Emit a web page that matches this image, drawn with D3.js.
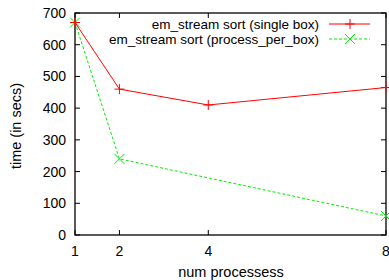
<!DOCTYPE html>
<html>
<head>
<meta charset="utf-8">
<script src="https://cdn.jsdelivr.net/npm/d3@7"></script>
<style>
  body { margin: 0; background: #fff; }
  text { font-family: "Liberation Sans", Arial, sans-serif; font-size: 14px; fill: #000; }
  .leg { font-size: 13.5px; }
  .axl { font-size: 14.5px; }
</style>
</head>
<body>
<div id="chart"></div>
<script>
var procs = [1, 2, 4, 8];
var singleBox = [670, 460, 410, 465];
var perBoxProcs = [1, 2, 8];
var perBox = [670, 240, 60];
var xTicks = [1, 2, 4, 8];
var yTicks = [0, 100, 200, 300, 400, 500, 600, 700];

var W = 389, H = 280;
var pl = 75, pr = 386, pt = 13, pb = 235;

var svg = d3.select("#chart").append("svg")
    .attr("width", W)
    .attr("height", H);

var x = d3.scaleLinear().domain([1, 8]).range([pl, pr]);
var y = d3.scaleLinear().domain([0, 700]).range([pb, pt]);

// ticks on all four sides, pointing inward (gnuplot style)
var tl = 5;
svg.selectAll(".ytl").data(yTicks).enter().append("line")
    .attr("x1", pl).attr("x2", pl + tl)
    .attr("y1", d => y(d)).attr("y2", d => y(d))
    .attr("stroke", "#000");
svg.selectAll(".ytr").data(yTicks).enter().append("line")
    .attr("x1", pr).attr("x2", pr - tl)
    .attr("y1", d => y(d)).attr("y2", d => y(d))
    .attr("stroke", "#000");
svg.selectAll(".xtb").data(xTicks).enter().append("line")
    .attr("x1", d => x(d)).attr("x2", d => x(d))
    .attr("y1", pb).attr("y2", pb - tl)
    .attr("stroke", "#000");
svg.selectAll(".xtt").data(xTicks).enter().append("line")
    .attr("x1", d => x(d)).attr("x2", d => x(d))
    .attr("y1", pt).attr("y2", pt + tl)
    .attr("stroke", "#000");

svg.append("rect")
    .attr("x", pl).attr("y", pt)
    .attr("width", pr - pl).attr("height", pb - pt)
    .attr("fill", "none").attr("stroke", "#000").attr("stroke-width", 1.3);

svg.selectAll(".ylab").data(yTicks).enter().append("text")
    .attr("x", pl - 9).attr("y", d => y(d) + 5)
    .attr("text-anchor", "end")
    .text(d => d);
svg.selectAll(".xlab").data(xTicks).enter().append("text")
    .attr("x", d => x(d)).attr("y", pb + 21)
    .attr("text-anchor", "middle")
    .text(d => d);

svg.append("text").attr("class", "axl")
    .attr("x", 231).attr("y", 277)
    .attr("text-anchor", "middle")
    .text("num processess");
svg.append("text").attr("class", "axl")
    .attr("transform", "translate(21,126) rotate(-90)")
    .attr("text-anchor", "middle")
    .text("time (in secs)");

var line = d3.line().x(d => x(d[0])).y(d => y(d[1]));
var red = "#ff0000", green = "#00ee00";

function plus(g, cx, cy, color) {
    g.append("path")
        .attr("d", "M" + (cx - 5) + "," + cy + "h10M" + cx + "," + (cy - 5) + "v10")
        .attr("stroke", color).attr("fill", "none");
}
function cross(g, cx, cy, color) {
    g.append("path")
        .attr("d", "M" + (cx - 5) + "," + (cy - 5) + "l10,10M" + (cx - 5) + "," + (cy + 5) + "l10,-10")
        .attr("stroke", color).attr("fill", "none");
}

var s1 = procs.map((p, i) => [p, singleBox[i]]);
var s2 = perBoxProcs.map((p, i) => [p, perBox[i]]);

svg.append("path").datum(s2).attr("d", line)
    .attr("fill", "none").attr("stroke", green).attr("stroke-dasharray", "3,2");
s2.forEach(d => cross(svg, x(d[0]), y(d[1]), green));

svg.append("path").datum(s1).attr("d", line)
    .attr("fill", "none").attr("stroke", red);
s1.forEach(d => plus(svg, x(d[0]), y(d[1]), red));

// legend
var legend = [
    {label: "em_stream sort (single box)", color: red, dash: null, mark: plus},
    {label: "em_stream sort (process_per_box)", color: green, dash: "3,2", mark: cross}
];
legend.forEach(function(l, i) {
    var ly = 24 + i * 15;
    svg.append("text").attr("class", "leg").attr("x", 319).attr("y", ly + 5)
        .attr("text-anchor", "end").text(l.label);
    svg.append("line").attr("x1", 329).attr("x2", 370)
        .attr("y1", ly).attr("y2", ly)
        .attr("stroke", l.color).attr("stroke-dasharray", l.dash);
    l.mark(svg, 350, ly, l.color);
});
</script>
</body>
</html>
